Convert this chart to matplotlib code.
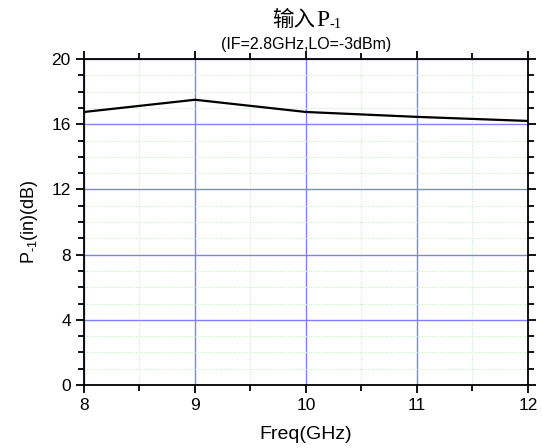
import matplotlib
matplotlib.use("Agg")
import matplotlib.pyplot as plt
from matplotlib.ticker import MultipleLocator

plt.rcParams['font.family'] = ['Liberation Sans', 'Noto Sans CJK SC']
plt.rcParams['mathtext.fontset'] = 'custom'
plt.rcParams['mathtext.rm'] = 'Liberation Sans'

freq = [8, 9, 10, 11, 12]
p1db = [16.75, 17.5, 16.75, 16.45, 16.2]
xticks = [8, 9, 10, 11, 12]
yticks = [0, 4, 8, 12, 16, 20]

fig = plt.figure(figsize=(5.42, 4.48), dpi=100)
ax = fig.add_axes([0.155, 0.1406, 0.819, 0.7277])

ax.plot(freq, p1db, color='black', lw=1.6, zorder=3)
ax.set_xlim(8, 12)
ax.set_ylim(0, 20)
ax.set_xticks(xticks)
ax.set_yticks(yticks)
ax.xaxis.set_minor_locator(MultipleLocator(0.5))
ax.yaxis.set_minor_locator(MultipleLocator(1))
ax.grid(which='major', color='#8080ff', lw=1.0, ls='-')
ax.grid(which='minor', color='#b8f0b8', lw=0.7, ls=':')
ax.set_axisbelow(True)
ax.tick_params(which='both', direction='out', top=True, right=True,
               labeltop=False, labelright=False, width=1.3, labelsize=12.5)
ax.tick_params(which='major', length=6)
ax.tick_params(which='minor', length=4)
for s in ax.spines.values():
    s.set_linewidth(1.3)

ax.set_xlabel('Freq(GHz)', fontsize=14, labelpad=9)
ax.set_ylabel(r'P$_{\text{-1}}$(in)(dB)', fontsize=13, labelpad=8)

# Title: Chinese part + serif P + small subscript
t1 = fig.text(0.5, 0.95, '输入', ha='left', va='baseline', fontsize=15.5,
              family=['Noto Sans CJK SC'])
t2 = fig.text(0, 0, 'P', ha='left', va='baseline', fontsize=17,
              family=['Liberation Serif'])
t3 = fig.text(0, 0, '-1', ha='left', va='baseline', fontsize=10.5,
              family=['Liberation Serif'])
fig.canvas.draw()
r = fig.canvas.get_renderer()
W, H = fig.bbox.width, fig.bbox.height
b1 = t1.get_window_extent(r)
b2 = t2.get_window_extent(r)
b3 = t3.get_window_extent(r)
total = b1.width + b2.width + b3.width
cx = 306.0
x0 = cx - total / 2
t1.set_position((x0 / W, (H - 26) / H))
t2.set_position(((x0 + b1.width + 1) / W, (H - 26) / H))
t3.set_position(((x0 + b1.width + b2.width + 1) / W, (H - 28) / H))

fig.text(306 / W, 1 - 44 / H, '(IF=2.8GHz,LO=-3dBm)', ha='center', va='center',
         fontsize=11.5)

fig.savefig('out.png', dpi=100)
